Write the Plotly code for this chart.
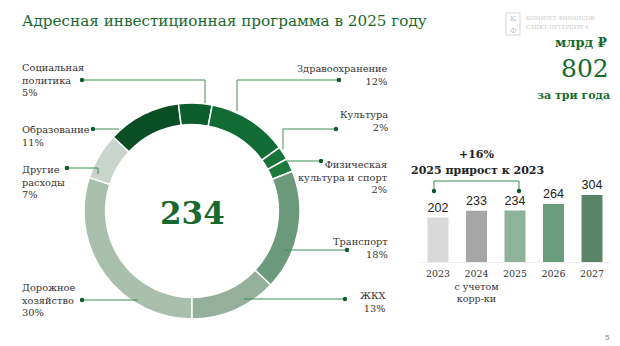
import plotly.graph_objects as go

W, H = 620, 346

# ---- data (clockwise from 6 o'clock) ----
sectors = ["Дорожное хозяйство", "Другие расходы", "Образование",
           "Социальная политика", "Здравоохранение", "Культура",
           "Физическая культура и спорт", "Транспорт", "ЖКХ"]
shares = [30, 7, 11, 5, 12, 2, 2, 18, 13]
sector_colors = ["#a9bfae", "#c9d4cc", "#0a4e24", "#0c5f2d", "#106b34",
                 "#18733b", "#1c7a3f", "#6b9a7a", "#94b09c"]
total_2025 = 234

years = ["2023", "2024", "2025", "2026", "2027"]
year_ticks = ["2023", "2024<br>с учетом<br>корр-ки", "2025", "2026", "2027"]
amounts = [202, 233, 234, 264, 304]
bar_colors = ["#d9d9d9", "#a6a6a6", "#8fb39a", "#699d7b", "#5a8466"]

SERIF = "DejaVu Serif"
GREEN = "#17692f"
LINE = "#3f8a57"
DOT = "#0b5a2a"
TXT = "#333333"


def px(x, y):
    return x / W, 1 - y / H


fig = go.Figure()

cx, cy, r = 192, 211, 108
fig.add_trace(go.Pie(
    labels=sectors, values=shares, hole=0.8, sort=False,
    direction="clockwise", rotation=180,
    marker=dict(colors=sector_colors, line=dict(color="white", width=1.5)),
    textinfo="none", hoverinfo="label+percent", showlegend=False,
    domain=dict(x=[(cx - r) / W, (cx + r) / W], y=[1 - (cy + r) / H, 1 - (cy - r) / H]),
))

bx0, bx1 = 418.75, 611.25
base_y, top_y = 262, 185
fig.add_trace(go.Bar(
    x=years, y=amounts, marker=dict(color=bar_colors, line=dict(width=0)),
    text=[str(v) for v in amounts], textposition="outside",
    textfont=dict(family="Liberation Sans", size=12.5, color="#222222"),
    cliponaxis=False, showlegend=False, xaxis="x", yaxis="y",
))

fig.update_layout(
    width=W, height=H, margin=dict(l=0, r=0, t=0, b=0),
    paper_bgcolor="white", plot_bgcolor="white", bargap=0.455,
    xaxis=dict(domain=[bx0 / W, bx1 / W], anchor="y", tickmode="array",
               tickvals=years, ticktext=year_ticks, showgrid=False,
               showline=True, linecolor="#eeeeee", linewidth=1, ticks="",
               ticklabelstandoff=3,
               tickfont=dict(family=SERIF, size=9.5, color=TXT), fixedrange=True),
    yaxis=dict(domain=[1 - base_y / H, 1 - top_y / H], range=[0, 350], visible=False,
               fixedrange=True),
    font=dict(family=SERIF, color=TXT),
)

ann = []
shapes = []


def text(x, y, s, size=11, color=TXT, xa="left", ya="middle", align="left", bold=False, family=SERIF):
    X, Y = px(x, y)
    if bold:
        s = "<b>" + s.replace("<br>", "</b><br><b>") + "</b>"
    ann.append(dict(x=X, y=Y, xref="paper", yref="paper", text=s, showarrow=False,
                    xanchor=xa, yanchor=ya, align=align,
                    font=dict(family=family, size=size, color=color)))


def path(pts, color=LINE):
    d = "M " + " L ".join(f"{p[0] / W},{1 - p[1] / H}" for p in pts)
    shapes.append(dict(type="path", path=d, xref="paper", yref="paper",
                       line=dict(color=color, width=1)))


def dot(x, y, rr=2.2):
    shapes.append(dict(type="circle", xref="paper", yref="paper",
                       x0=(x - rr) / W, x1=(x + rr) / W, y0=1 - (y + rr) / H, y1=1 - (y - rr) / H,
                       fillcolor=DOT, line=dict(width=0)))


LS = 9.8
# title
text(20, 21, "Адресная инвестиционная программа в 2025 году", size=15.2, color=GREEN)

# center value
text(cx, cy + 2, f"<b>{total_2025}</b>", size=31, color=GREEN, xa="center")

# left labels
text(20, 80, "Социальная<br>политика<br>5%", size=LS)
path([(82, 80), (205, 80), (205, 103)]); dot(82, 80)
text(20, 135.5, "Образование<br>11%", size=LS)
path([(93, 129), (119, 129)]); dot(93, 129)
text(20, 182, "Другие<br>расходы<br>7%", size=LS)
path([(67, 168), (98, 168), (98, 174)]); dot(67, 168)
text(20, 300, "Дорожное<br>хозяйство<br>30%", size=LS)
path([(82, 300), (138, 300)]); dot(82, 300)

# right labels
text(390, 74.5, "Здравоохранение<br>12%", size=LS, xa="right", align="right")
path([(339, 80), (237, 80), (237, 111)]); dot(339, 80)
text(390, 121, "Культура<br>2%", size=LS, xa="right", align="right")
path([(336, 129), (283, 129), (283, 149)]); dot(336, 129)
text(390, 177, "Физическая<br>культура и спорт<br>2%", size=LS, xa="right", align="right")
path([(321, 161), (287, 161)]); dot(321, 161)
text(390, 248, "Транспорт<br>18%", size=LS, xa="right", align="right")
path([(347, 250), (284, 250)]); dot(347, 250)
text(388, 301.5, "ЖКХ<br>13%", size=LS, xa="right", align="right")
path([(345, 299), (244, 299)]); dot(345, 299)

# right header
text(609, 42, "млрд ₽", size=13, color=GREEN, xa="right", bold=True)
text(611, 68, "802", size=25, color=GREEN, xa="right")
text(612, 96, "за три года", size=11, color=GREEN, xa="right", bold=True)

# logo (faint)
shapes.append(dict(type="rect", xref="paper", yref="paper",
                   x0=506 / W, x1=520 / W, y0=1 - 35 / H, y1=1 - 13 / H,
                   line=dict(color="#d5d5d5", width=1)))
text(513, 19, "К", size=8, color="#c8c8c8", xa="center")
text(513, 30, "Ф", size=8, color="#c8c8c8", xa="center")
text(524, 18, "КОМИТЕТ ФИНАНСОВ", size=5.5, color="#c8c8c8")
text(524, 27, "САНКТ-ПЕТЕРБУРГА", size=5.5, color="#c8c8c8")

# growth bracket
text(477, 154, "+16%", size=11, color="#222222", xa="center", bold=True)
text(477, 170, "2025 прирост к 2023", size=11, color="#222222", xa="center", bold=True)
path([(434, 191), (434, 181), (519, 181), (519, 191)])
dot(434, 191); dot(519, 191)

# page number
text(612, 337, "5", size=8, color="#888888", xa="right", family="Liberation Sans")

fig.update_layout(annotations=ann, shapes=shapes)
fig.write_html("out.html")
